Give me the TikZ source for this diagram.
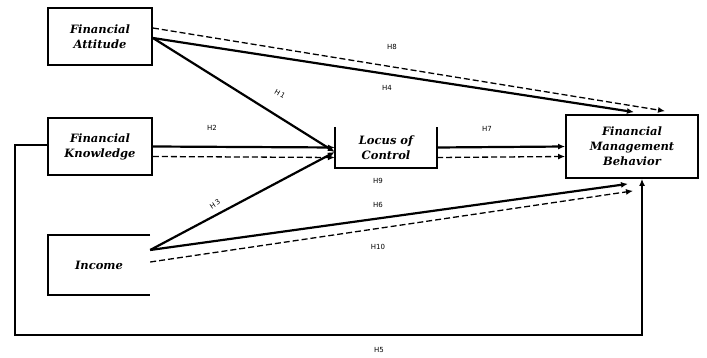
\documentclass[tikz,border=0pt]{standalone}
\usepackage{fontspec}
\usetikzlibrary{arrows.meta}
\newfontfamily\boxfont{DejaVu Serif}
\newfontfamily\labfont{DejaVu Sans}
\begin{document}
\begin{tikzpicture}[x=1pt,y=-1pt,
  box/.style={draw,line width=1.8pt,inner sep=0pt,align=center,font=\boxfont\bfseries\itshape\fontsize{11.5}{15}\selectfont},
  boxnd/.style={inner sep=0pt,align=center,font=\boxfont\bfseries\itshape\fontsize{11.5}{15}\selectfont},
  solidarrow/.style={line width=2.2pt,-{Latex[length=7pt,width=6pt]}},
  dasharrow/.style={line width=1.3pt,dash pattern=on 6pt off 3pt,-{Latex[length=7pt,width=6pt]}},
  hlab/.style={font=\labfont\fontsize{7}{8}\selectfont,inner sep=0pt}]
\useasboundingbox (0,0) rectangle (707,358);
% boxes
\node[box,minimum width=104pt,minimum height=57pt] (fa) at (100,36.5) {Financial\\Attitude};
\node[box,minimum width=104pt,minimum height=57pt] (fk) at (100,146.5) {Financial\\Knowledge};
\node[boxnd,minimum width=102pt,minimum height=60pt] (inc) at (99,265) {Income};
\draw[line width=1.8pt] (inc.north east) -- (inc.north west) -- (inc.south west) -- (inc.south east);
\node[boxnd,minimum width=102pt,minimum height=41pt] (loc) at (386,147.5) {Locus of\\Control};
\draw[line width=1.8pt] (loc.north west) -- (loc.south west) -- (loc.south east) -- (loc.north east);
\node[box,minimum width=132pt,minimum height=63pt] (fmb) at (632,146.5) {Financial\\Management\\Behavior};
% FA arrows
\draw[dasharrow] ([yshift=8.5pt]fa.east) -- ([xshift=33pt,yshift=3pt]fmb.north);
\draw[solidarrow] ([yshift=-1.5pt]fa.east) -- ([xshift=2pt,yshift=2pt]fmb.north);
\draw[solidarrow] ([yshift=-1.5pt]fa.east) -- ([yshift=-4.5pt]loc.west);
% FK
\draw[solidarrow] (fk.east) -- (loc.west);
\draw[dasharrow] ([yshift=-10pt]fk.east) -- ([yshift=-10pt]loc.west);
% Income
\draw[solidarrow] ([yshift=15pt]inc.east) -- ([yshift=-4.5pt]loc.west);
\draw[solidarrow] ([yshift=15pt]inc.east) -- ([xshift=-4pt,yshift=-5pt]fmb.south);
\draw[dasharrow] ([yshift=3pt]inc.east) -- ([xshift=1pt,yshift=-12pt]fmb.south);
% LoC
\draw[solidarrow] (loc.east) -- (fmb.west);
\draw[dasharrow] ([yshift=-10pt]loc.east) -- ([yshift=-10pt]fmb.west);
% loop
\coordinate (c2) at (15,335);
\draw[line width=2.2pt,-{Latex[length=7pt,width=6pt]}] ([yshift=1.5pt]fk.west) -| (c2) -| ([xshift=10pt]fmb.south);
% labels
\node[hlab] (l8) at (392,47) {H8};
\node[hlab] (l4) at (387,88) {H4};
\node[hlab,rotate=-30] (l1) at (280,94) {H\kern1.2pt 1};
\node[hlab] (l2) at (212,128) {H2};
\node[hlab,rotate=33] (l3) at (215,204) {H\kern1.2pt 3};
\node[hlab] (l7) at (487,129) {H7};
\node[hlab] (l9) at (378,181) {H9};
\node[hlab] (l6) at (378,205) {H6};
\node[hlab] (l10) at (378,247) {H10};
\node[hlab] (l5) at (379,350) {H5};
\end{tikzpicture}
\end{document}
